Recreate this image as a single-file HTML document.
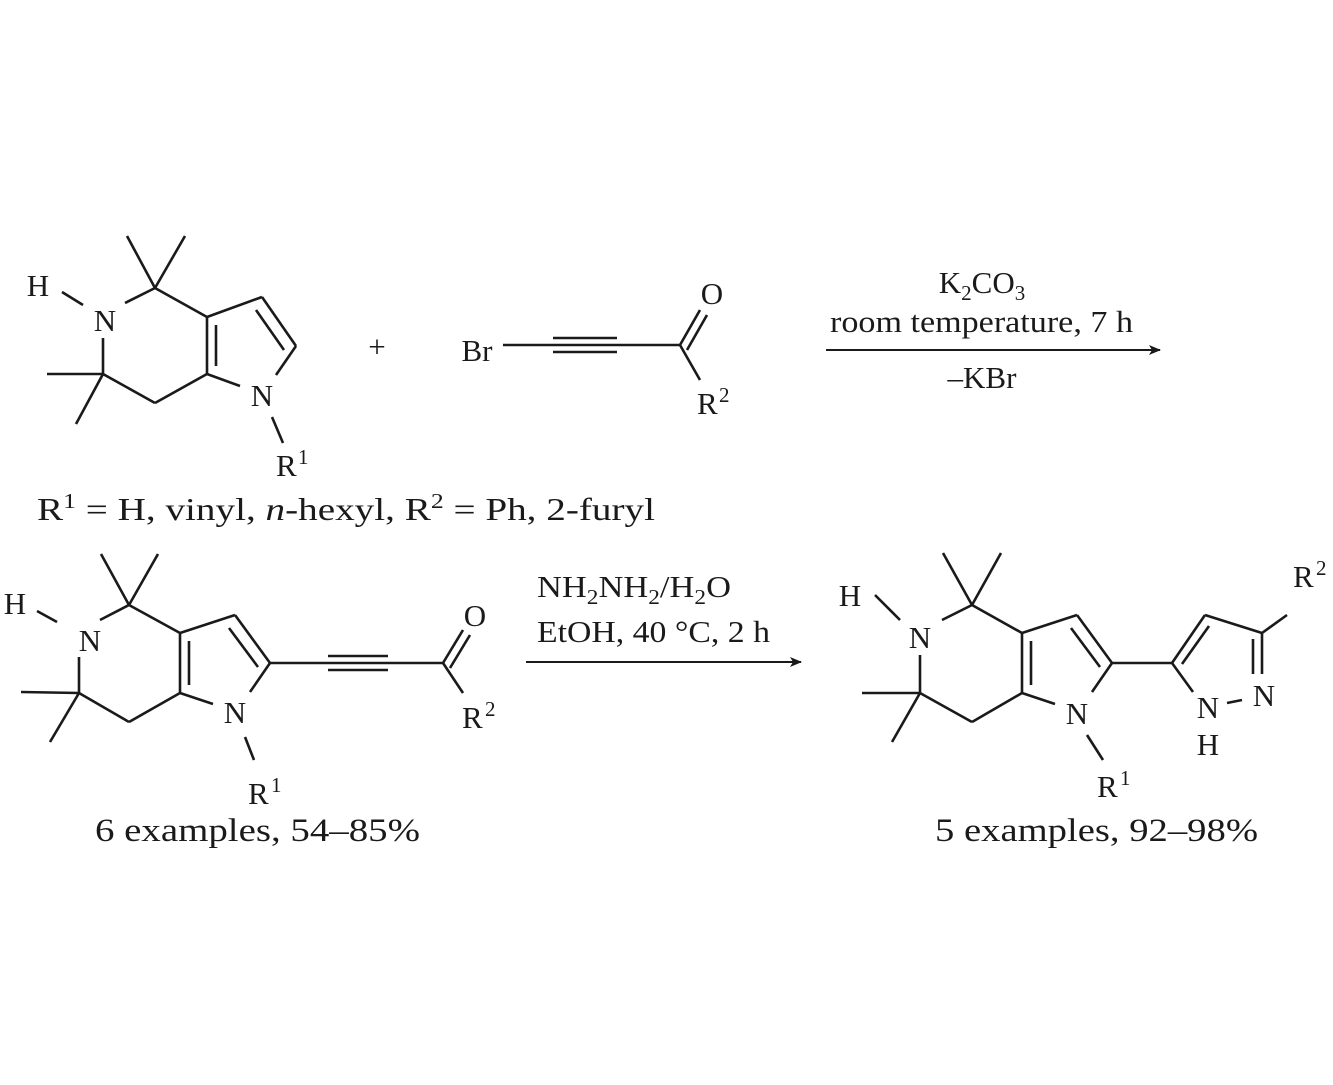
<!DOCTYPE html>
<html><head><meta charset="utf-8"><style>
html,body{margin:0;padding:0;background:#fff;}
svg{display:block;}
text{font-family:"Liberation Serif",serif;fill:#1a1a1a;}
</style></head><body>
<svg width="1333" height="1085" viewBox="0 0 1333 1085" xmlns="http://www.w3.org/2000/svg">
<defs><marker id="ah" markerWidth="12" markerHeight="10" refX="11" refY="5" orient="auto" markerUnits="userSpaceOnUse"><path d="M0,0 L12,5 L0,10 L3,5 Z" fill="#1a1a1a"/></marker></defs>
<g stroke="#1a1a1a" stroke-width="2.6" fill="none" stroke-linecap="butt">
<!-- Molecule 1 -->
<line x1="155" y1="288" x2="127" y2="236"/><line x1="155" y1="288" x2="185" y2="236"/>
<line x1="125" y1="303" x2="155" y2="288"/><line x1="62" y1="292" x2="83" y2="305"/>
<line x1="155" y1="288" x2="207" y2="317"/>
<line x1="207" y1="317" x2="262" y2="297"/>
<line x1="262" y1="297" x2="296" y2="346"/><line x1="256" y1="310" x2="284" y2="350"/>
<line x1="296" y1="346" x2="276" y2="375"/>
<line x1="207" y1="317" x2="207" y2="374"/><line x1="216" y1="325" x2="216" y2="366"/>
<line x1="207" y1="374" x2="240" y2="386"/>
<line x1="207" y1="374" x2="155" y2="403"/><line x1="155" y1="403" x2="103" y2="374"/>
<line x1="103" y1="374" x2="47" y2="374"/><line x1="103" y1="374" x2="76" y2="424"/>
<line x1="103" y1="374" x2="103" y2="338"/>
<line x1="272" y1="417" x2="283" y2="443"/>
<!-- Br alkyne -->
<line x1="503" y1="345" x2="553" y2="345"/>
<line x1="553" y1="338" x2="617" y2="338"/><line x1="553" y1="345" x2="617" y2="345"/><line x1="553" y1="352" x2="617" y2="352"/>
<line x1="617" y1="345" x2="680" y2="345"/>
<line x1="680" y1="345" x2="700" y2="310"/><line x1="687" y1="350" x2="707" y2="315"/>
<line x1="680" y1="345" x2="700" y2="380"/>
<!-- Molecule 2 -->
<line x1="129" y1="605" x2="101" y2="554"/><line x1="129" y1="605" x2="158" y2="554"/>
<line x1="100" y1="620" x2="129" y2="605"/><line x1="37" y1="611" x2="57" y2="622"/>
<line x1="129" y1="605" x2="180" y2="633"/>
<line x1="180" y1="633" x2="235" y2="615"/>
<line x1="235" y1="615" x2="270" y2="663"/><line x1="229" y1="628" x2="258" y2="667"/>
<line x1="270" y1="663" x2="250" y2="692"/>
<line x1="180" y1="633" x2="180" y2="693"/><line x1="189" y1="641" x2="189" y2="685"/>
<line x1="180" y1="693" x2="213" y2="704"/>
<line x1="180" y1="693" x2="129" y2="722"/><line x1="129" y1="722" x2="79" y2="693"/>
<line x1="79" y1="693" x2="21" y2="692"/><line x1="79" y1="693" x2="50" y2="742"/>
<line x1="79" y1="693" x2="79" y2="657"/>
<line x1="245" y1="737" x2="254" y2="760"/>
<line x1="270" y1="663" x2="328" y2="663"/>
<line x1="328" y1="656" x2="388" y2="656"/><line x1="328" y1="663" x2="388" y2="663"/><line x1="328" y1="670" x2="388" y2="670"/>
<line x1="388" y1="663" x2="443" y2="663"/>
<line x1="443" y1="663" x2="463" y2="630"/><line x1="450" y1="668" x2="470" y2="635"/>
<line x1="443" y1="663" x2="463" y2="693"/>
<!-- Molecule 3 -->
<line x1="972" y1="605" x2="943" y2="553"/><line x1="972" y1="605" x2="1001" y2="553"/>
<line x1="942" y1="620" x2="972" y2="605"/><line x1="875" y1="595" x2="900" y2="620"/>
<line x1="972" y1="605" x2="1022" y2="633"/>
<line x1="1022" y1="633" x2="1077" y2="615"/>
<line x1="1077" y1="615" x2="1112" y2="663"/><line x1="1071" y1="628" x2="1100" y2="667"/>
<line x1="1112" y1="663" x2="1092" y2="692"/>
<line x1="1022" y1="633" x2="1022" y2="693"/><line x1="1031" y1="641" x2="1031" y2="685"/>
<line x1="1022" y1="693" x2="1055" y2="704"/>
<line x1="1022" y1="693" x2="972" y2="722"/><line x1="972" y1="722" x2="920" y2="693"/>
<line x1="920" y1="693" x2="862" y2="693"/><line x1="920" y1="693" x2="892" y2="742"/>
<line x1="920" y1="693" x2="920" y2="655"/>
<line x1="1087" y1="735" x2="1103" y2="760"/>
<line x1="1112" y1="663" x2="1172" y2="663"/>
<line x1="1172" y1="663" x2="1205" y2="615"/><line x1="1182" y1="664" x2="1209" y2="626"/>
<line x1="1205" y1="615" x2="1262" y2="633"/>
<line x1="1262" y1="633" x2="1287" y2="615"/>
<line x1="1262" y1="633" x2="1262" y2="674"/><line x1="1253" y1="639" x2="1253" y2="674"/>
<line x1="1172" y1="663" x2="1193" y2="692"/>
<line x1="1227" y1="703" x2="1242" y2="700"/>
<!-- arrows -->
<line x1="826" y1="350" x2="1160" y2="350" stroke-width="2" marker-end="url(#ah)"/>
<line x1="526" y1="662" x2="801" y2="662" stroke-width="2" marker-end="url(#ah)"/>
</g>
<g font-size="31">
<!-- mol1 labels -->
<text x="38" y="296" text-anchor="middle">H</text>
<text x="105" y="331" text-anchor="middle">N</text>
<text x="262" y="406" text-anchor="middle">N</text>
<text x="276" y="476">R</text><text x="298" y="464" font-size="21">1</text>
<text x="377" y="357" text-anchor="middle">+</text>
<text x="477" y="361" text-anchor="middle">Br</text>
<text x="712" y="304" text-anchor="middle">O</text>
<text x="697" y="414">R</text><text x="719" y="402" font-size="21">2</text>
<text x="37" y="520" font-size="32" textLength="618" lengthAdjust="spacingAndGlyphs">R<tspan font-size="21" dy="-12">1</tspan><tspan dy="12"> = H, vinyl, </tspan><tspan font-style="italic">n</tspan>-hexyl, R<tspan font-size="21" dy="-12">2</tspan><tspan dy="12"> = Ph, 2-furyl</tspan></text>
<!-- arrow1 text -->
<text x="982" y="293" text-anchor="middle">K<tspan font-size="21" dy="7">2</tspan><tspan dy="-7">CO</tspan><tspan font-size="21" dy="7">3</tspan></text>
<text x="830" y="332" textLength="303" lengthAdjust="spacingAndGlyphs">room temperature, 7 h</text>
<text x="982" y="388" text-anchor="middle">–KBr</text>
<!-- mol2 -->
<text x="15" y="614" text-anchor="middle">H</text>
<text x="90" y="651" text-anchor="middle">N</text>
<text x="235" y="723" text-anchor="middle">N</text>
<text x="248" y="804">R</text><text x="271" y="792" font-size="21">1</text>
<text x="475" y="626" text-anchor="middle">O</text>
<text x="462" y="728">R</text><text x="485" y="716" font-size="21">2</text>
<text x="95" y="841" font-size="33" textLength="325" lengthAdjust="spacingAndGlyphs">6 examples, 54–85%</text>
<!-- arrow2 text -->
<text x="537" y="597" textLength="194" lengthAdjust="spacingAndGlyphs">NH<tspan font-size="21" dy="7">2</tspan><tspan dy="-7">NH</tspan><tspan font-size="21" dy="7">2</tspan><tspan dy="-7">/H</tspan><tspan font-size="21" dy="7">2</tspan><tspan dy="-7">O</tspan></text>
<text x="537" y="642" textLength="233" lengthAdjust="spacingAndGlyphs">EtOH, 40 °C, 2 h</text>
<!-- mol3 -->
<text x="850" y="606" text-anchor="middle">H</text>
<text x="920" y="648" text-anchor="middle">N</text>
<text x="1077" y="724" text-anchor="middle">N</text>
<text x="1097" y="797">R</text><text x="1120" y="785" font-size="21">1</text>
<text x="1293" y="587">R</text><text x="1316" y="575" font-size="21">2</text>
<text x="1264" y="706" text-anchor="middle">N</text>
<text x="1208" y="718" text-anchor="middle">N</text>
<text x="1208" y="755" text-anchor="middle">H</text>
<text x="935" y="841" font-size="33" textLength="323" lengthAdjust="spacingAndGlyphs">5 examples, 92–98%</text>
</g>
</svg>
</body></html>
